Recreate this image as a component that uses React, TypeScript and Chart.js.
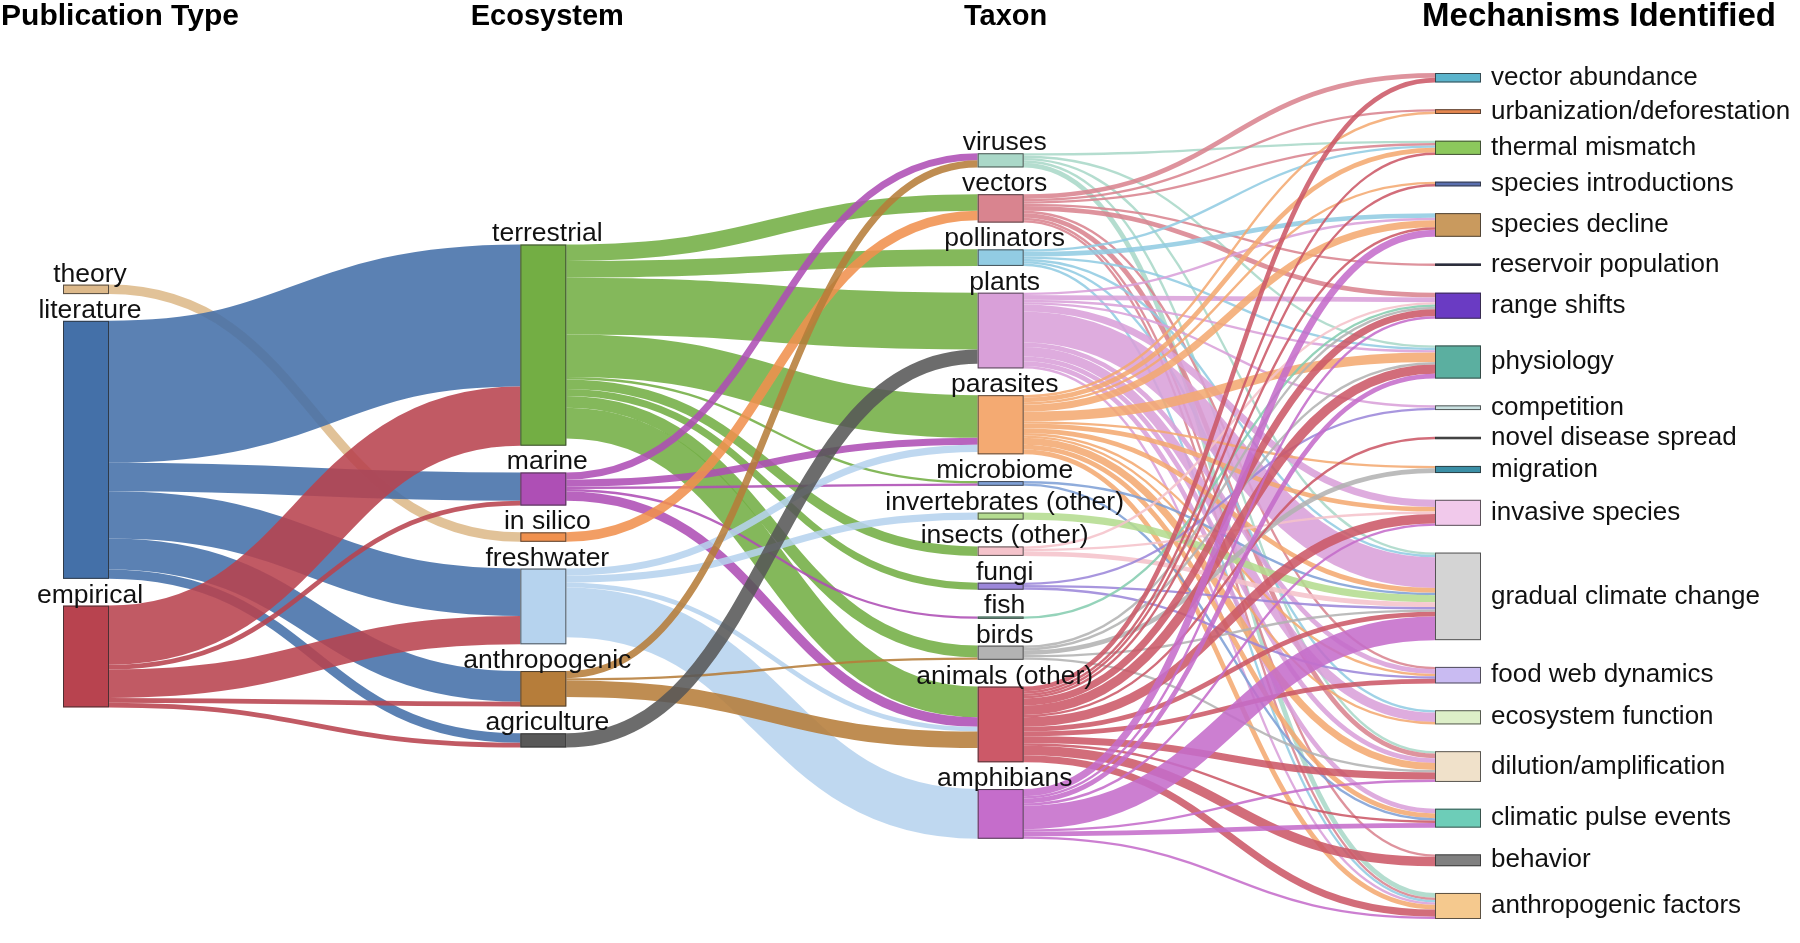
import React, { useEffect, useRef } from 'react';
import { Chart, registerables } from 'chart.js';

Chart.register(...registerables);

// ---------------- data ----------------
const COLUMN_TITLES = ['Publication Type', 'Ecosystem', 'Taxon', 'Mechanisms Identified'];

const PUBLICATION_TYPES = ['theory', 'literature', 'empirical'];

const ECOSYSTEMS = ['terrestrial', 'marine', 'in silico', 'freshwater', 'anthropogenic', 'agriculture'];

const TAXA = [
  'viruses', 'vectors', 'pollinators', 'plants', 'parasites', 'microbiome',
  'invertebrates (other)', 'insects (other)', 'fungi', 'fish', 'birds', 'animals (other)', 'amphibians',
];

const MECHANISMS = [
  'vector abundance', 'urbanization/deforestation', 'thermal mismatch', 'species introductions',
  'species decline', 'reservoir population', 'range shifts', 'physiology', 'competition',
  'novel disease spread', 'migration', 'invasive species', 'gradual climate change',
  'food web dynamics', 'ecosystem function', 'dilution/amplification', 'climatic pulse events',
  'behavior', 'anthropogenic factors',
];

// rows: publication type, columns: ecosystem
const PUB_TO_ECO = [
  [0, 0, 4, 0, 0, 0],
  [60, 12, 0, 20, 13, 4],
  [25, 2, 0, 12, 2, 2],
];

// rows: ecosystem, columns: taxon
const ECO_TO_TAXON = [
  [0, 7, 7, 24, 18, 1, 0, 4, 3, 0, 5, 13, 0],
  [3, 0, 0, 0, 3, 1, 0, 0, 0, 1, 0, 4, 0],
  [0, 4, 0, 0, 0, 0, 0, 0, 0, 0, 0, 0, 0],
  [0, 0, 0, 0, 3, 0, 3, 0, 0, 0, 0, 2, 21],
  [3, 0, 0, 0, 0, 0, 0, 0, 0, 0, 1, 7, 0],
  [0, 0, 0, 6, 0, 0, 0, 0, 0, 0, 0, 0, 0],
];

// rows: taxon, columns: mechanism
const TAXON_TO_MECH = [
  [0, 0, 1, 0, 0, 0, 0, 1, 0, 0, 0, 0, 1, 0, 0, 1, 0, 0, 2],
  [2, 1, 1, 0, 0, 1, 2, 0, 0, 0, 0, 0, 0, 1, 0, 2, 0, 1, 1],
  [0, 0, 1, 0, 2, 0, 0, 1, 0, 0, 0, 0, 1, 0, 1, 0, 0, 0, 1],
  [0, 0, 0, 0, 1, 0, 2, 1, 1, 0, 0, 3, 13, 2, 4, 2, 2, 0, 1],
  [0, 1, 2, 1, 3, 0, 0, 4, 0, 0, 1, 2, 2, 1, 1, 3, 2, 0, 2],
  [0, 0, 0, 0, 0, 0, 0, 0, 0, 0, 0, 0, 1, 0, 0, 0, 1, 0, 0],
  [0, 0, 0, 0, 0, 0, 0, 0, 0, 0, 0, 0, 3, 0, 0, 0, 0, 0, 0],
  [0, 0, 0, 0, 0, 0, 1, 0, 0, 0, 0, 1, 2, 0, 0, 0, 0, 0, 0],
  [0, 0, 0, 0, 0, 0, 0, 0, 1, 0, 0, 0, 1, 1, 0, 0, 0, 0, 0],
  [0, 0, 0, 0, 0, 0, 1, 0, 0, 0, 0, 0, 0, 0, 0, 0, 0, 0, 0],
  [0, 0, 0, 0, 0, 0, 1, 1, 0, 0, 2, 0, 1, 0, 0, 1, 0, 0, 0],
  [2, 0, 1, 1, 1, 0, 3, 4, 0, 1, 0, 4, 2, 2, 0, 3, 1, 4, 3],
  [0, 0, 0, 0, 3, 0, 1, 2, 0, 0, 0, 1, 10, 0, 0, 1, 2, 0, 1],
];

// ---------------- styles ----------------
const PUB_COLORS = ['#DDB98A', '#4470A8', '#B8434F'];
const ECO_COLORS = ['#73AE44', '#AE4FB5', '#F0914F', '#B6D3EE', '#B67D3A', '#585858'];
const TAXON_COLORS = [
  '#AAD8C8', '#D9848F', '#92CCE3', '#D9A0D9', '#F4AA72', '#7FA0D6',
  '#B4DC90', '#F5C3CB', '#9C87DA', '#86CDB0', '#B3B3B3', '#CC5968', '#C56DCB',
];
const MECH_COLORS = [
  '#5BB4CC', '#E6874F', '#8CC85C', '#5A6FAF', '#C99A5E', '#2E3354', '#6A3BC3', '#5BAFA0',
  '#C9E1E1', '#6E6E6E', '#3B8FA6', '#F1C9EB', '#D4D4D4', '#C9BBF2', '#DDEFC8', '#F0E1CA',
  '#6DCDB8', '#808080', '#F5C98E',
];

const NODE_GAP = 11.3; // gap between nodes, in value units
const NODE_WIDTH_PX = 46;
const LINK_ALPHA = 0.88;
const LABEL_FONT_MID = '26.5px "Liberation Sans", Arial, sans-serif';
const LABEL_FONT_RIGHT = '26px "Liberation Sans", Arial, sans-serif';
const TITLE_FONTS = [
  'bold 30px "Liberation Sans", Arial, sans-serif',
  'bold 29px "Liberation Sans", Arial, sans-serif',
  'bold 29px "Liberation Sans", Arial, sans-serif',
  'bold 33px "Liberation Sans", Arial, sans-serif',
];
const TITLE_OFFSETS_PX = [34, 4, 5, 141]; // title centre relative to node centre

type SNode = { col: number; idx: number; name: string; color: string; value: number; y0: number; y1: number; outOff: number; inOff: number };
type SLink = { col: number; s: number; t: number; v: number; sy: number; ty: number; color: string };

function hexToRgba(hex: string, a: number) {
  const n = parseInt(hex.slice(1), 16);
  return `rgba(${(n >> 16) & 255},${(n >> 8) & 255},${n & 255},${a})`;
}

function buildLayout() {
  const names = [PUBLICATION_TYPES, ECOSYSTEMS, TAXA, MECHANISMS];
  const colors = [PUB_COLORS, ECO_COLORS, TAXON_COLORS, MECH_COLORS];
  const mats = [PUB_TO_ECO, ECO_TO_TAXON, TAXON_TO_MECH];
  const nodes: SNode[][] = names.map((col, c) =>
    col.map((name, i) => {
      const out = c < 3 ? mats[c][i].reduce((a, b) => a + b, 0) : 0;
      const inn = c > 0 ? mats[c - 1].reduce((a, row) => a + row[i], 0) : 0;
      return { col: c, idx: i, name, color: colors[c][i], value: Math.max(out, inn), y0: 0, y1: 0, outOff: 0, inOff: 0 };
    })
  );
  const totals = nodes.map((col) => col.reduce((a, n) => a + n.value, 0) + (col.length - 1) * NODE_GAP);
  const yMax = Math.max(...totals);
  nodes.forEach((col, c) => {
    let y = (yMax - totals[c]) / 2;
    col.forEach((n) => {
      n.y0 = y;
      n.y1 = y + n.value;
      n.outOff = y;
      n.inOff = y;
      y = n.y1 + NODE_GAP;
    });
  });
  const links: SLink[] = [];
  mats.forEach((m, c) => {
    m.forEach((row, s) => {
      row.forEach((v, t) => {
        if (v > 0) links.push({ col: c, s, t, v, sy: 0, ty: 0, color: nodes[c][s].color });
      });
    });
    m.forEach((row, s) => {
      const src = nodes[c][s];
      row.forEach((v, t) => {
        if (v <= 0) return;
        const l = links.find((L) => L.col === c && L.s === s && L.t === t)!;
        l.sy = src.outOff + v / 2;
        src.outOff += v;
      });
    });
    nodes[c + 1].forEach((tgt, t) => {
      m.forEach((row, s) => {
        const v = row[t];
        if (v <= 0) return;
        const l = links.find((L) => L.col === c && L.s === s && L.t === t)!;
        l.ty = tgt.inOff + v / 2;
        tgt.inOff += v;
      });
    });
  });
  return { nodes, links, yMax };
}

export default function App() {
  const ref = useRef<HTMLCanvasElement | null>(null);

  useEffect(() => {
    if (!ref.current) return;
    const { nodes, links, yMax } = buildLayout();

    const sankeyPlugin = {
      id: 'sankeyDraw',
      afterDatasetsDraw(chart: any) {
        const { ctx } = chart;
        const xs = chart.scales.x;
        const ys = chart.scales.y;
        const k = Math.abs(ys.getPixelForValue(1) - ys.getPixelForValue(0));
        ctx.save();
        links.forEach((l) => {
          const x0 = xs.getPixelForValue(l.col) + NODE_WIDTH_PX;
          const x1 = xs.getPixelForValue(l.col + 1);
          const y0 = ys.getPixelForValue(l.sy);
          const y1 = ys.getPixelForValue(l.ty);
          const xm = (x0 + x1) / 2;
          ctx.beginPath();
          ctx.moveTo(x0, y0);
          ctx.bezierCurveTo(xm, y0, xm, y1, x1, y1);
          ctx.strokeStyle = hexToRgba(l.color, LINK_ALPHA);
          ctx.lineWidth = Math.max(1, l.v * k);
          ctx.lineCap = 'butt';
          ctx.stroke();
        });
        nodes.forEach((col) =>
          col.forEach((n) => {
            const x = xs.getPixelForValue(n.col);
            const yTop = ys.getPixelForValue(n.y0);
            const yBot = ys.getPixelForValue(n.y1);
            const h = Math.max(1.5, yBot - yTop);
            ctx.fillStyle = n.color;
            ctx.fillRect(x, yTop, NODE_WIDTH_PX, h);
            ctx.strokeStyle = 'rgba(40,40,40,0.75)';
            ctx.lineWidth = 1;
            ctx.strokeRect(x + 0.5, yTop + 0.5, NODE_WIDTH_PX - 1, Math.max(0.5, h - 1));
          })
        );
        ctx.fillStyle = '#111';
        nodes.forEach((col) =>
          col.forEach((n) => {
            const x = xs.getPixelForValue(n.col);
            const yTop = ys.getPixelForValue(n.y0);
            const yBot = ys.getPixelForValue(n.y1);
            if (n.col < 3) {
              ctx.font = LABEL_FONT_MID;
              ctx.textAlign = 'center';
              ctx.textBaseline = 'alphabetic';
              ctx.fillText(n.name, x + NODE_WIDTH_PX / 2 + 4, yTop - 3);
            } else {
              ctx.font = LABEL_FONT_RIGHT;
              ctx.textAlign = 'left';
              ctx.textBaseline = 'middle';
              ctx.fillText(n.name, x + NODE_WIDTH_PX + 10, (yTop + yBot) / 2);
            }
          })
        );
        ctx.textAlign = 'center';
        ctx.textBaseline = 'middle';
        ctx.fillStyle = '#000';
        COLUMN_TITLES.forEach((t, c) => {
          ctx.font = TITLE_FONTS[c];
          const x = xs.getPixelForValue(c) + NODE_WIDTH_PX / 2 + TITLE_OFFSETS_PX[c];
          ctx.fillText(t, x, 17);
        });
        ctx.restore();
      },
    };

    const chart = new Chart(ref.current, {
      type: 'scatter',
      data: { datasets: [{ data: [], pointRadius: 0 }] },
      options: {
        animation: false,
        responsive: true,
        maintainAspectRatio: false,
        layout: { padding: { left: 63, right: 365, top: 73, bottom: 24 } },
        plugins: { legend: { display: false }, tooltip: { enabled: false } },
        events: [],
        scales: {
          x: { type: 'linear', min: 0, max: 3, display: false },
          y: { type: 'linear', min: 0, max: yMax, reverse: true, display: false },
        },
      },
      plugins: [sankeyPlugin],
    });
    return () => chart.destroy();
  }, []);

  return (
    <div style={{ position: 'fixed', left: 0, top: 0, width: '100vw', height: '100vh', background: '#fff' }}>
      <canvas ref={ref} />
    </div>
  );
}
